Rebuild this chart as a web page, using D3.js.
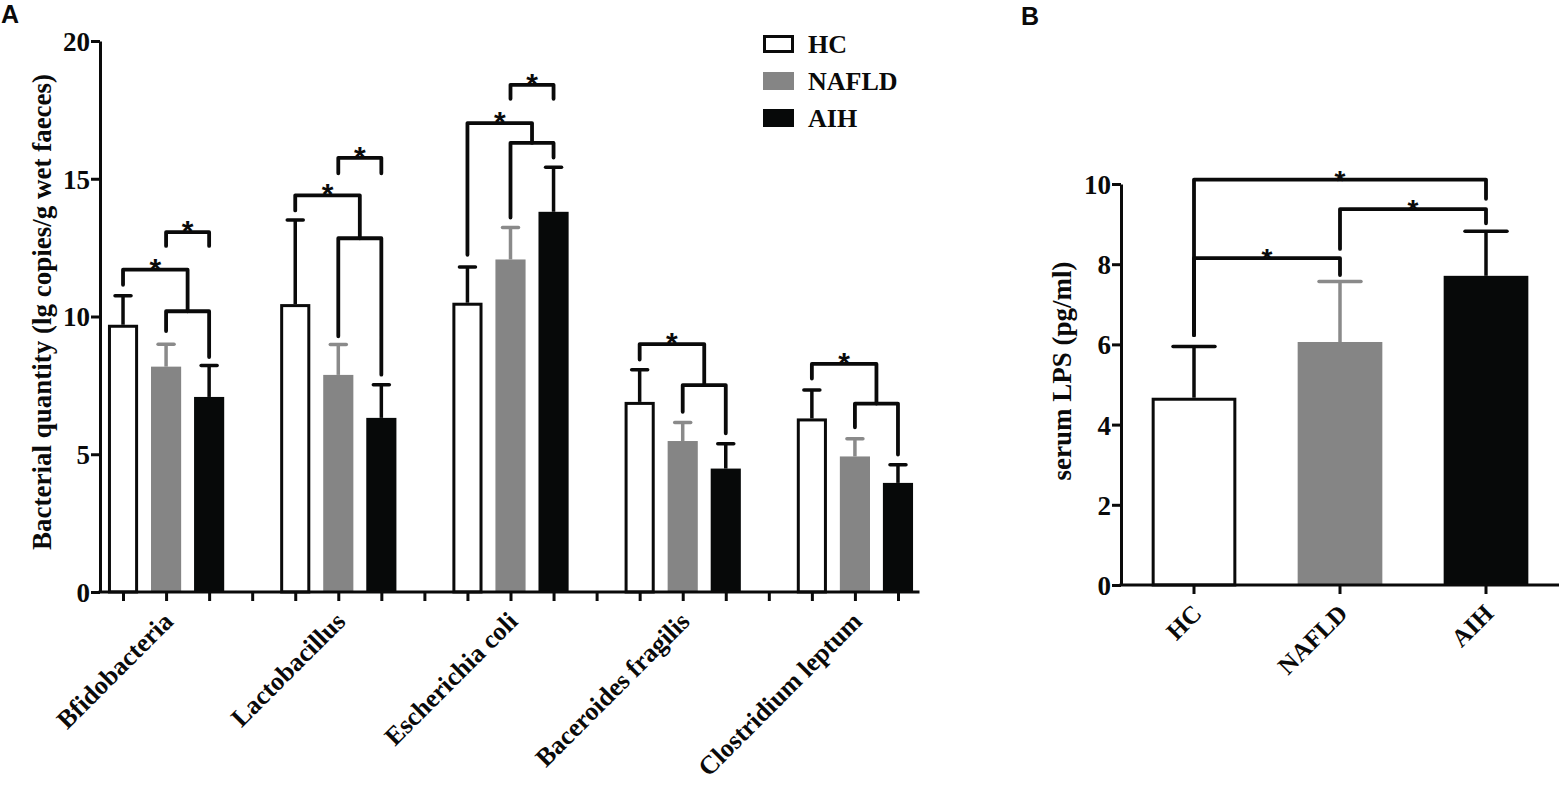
<!DOCTYPE html>
<html>
<head>
<meta charset="utf-8">
<script src="https://cdn.jsdelivr.net/npm/d3@7"></script>
<style>
  body { margin: 0; background: #fff; }
</style>
</head>
<body>
<svg id="fig" width="1562" height="788"></svg>
<script>
//Panel A data: bacterial quantity per group (mean and SD)
var categories = ["Bfidobacteria", "Lactobacillus", "Escherichia coli", "Baceroides fragilis", "Clostridium leptum"];
var groups = ["HC", "NAFLD", "AIH"];
var hcMean = [9.70, 10.45, 10.50, 6.90, 6.30];
var hcSD = [1.05, 3.05, 1.30, 1.17, 1.03];
var nafldMean = [8.18, 7.88, 12.07, 5.48, 4.92];
var nafldSD = [0.81, 1.10, 1.16, 0.67, 0.64];
var aihMean = [7.08, 6.32, 13.80, 4.48, 3.96];
var aihSD = [1.14, 1.20, 1.62, 0.90, 0.66];
var yTicksA = [0, 5, 10, 15, 20];

//Panel A significance brackets, in y units
//HC -> NAFLD/AIH pair: [HC leg end, top, pair level]
var outerBracket = [[11.15, 11.70, 10.19], [13.85, 14.40, 12.84], [12.24, 17.02, 16.30], [8.44, 9.00, 7.51], [7.75, 8.28, 6.84]];
//NAFLD/AIH joint bracket: [NAFLD leg end, AIH leg end]
var pairBracket = [[9.47, 8.53], [9.28, 7.89], [13.59, 15.77], [6.54, 5.76], [5.98, 4.99]];
//NAFLD vs AIH bracket: [leg end, top] (null = none)
var topBracket = [[12.56, 13.06], [15.20, 15.76], [17.90, 18.41], null, null];

//Panel B data: serum LPS
var lpsMean = [4.67, 6.06, 7.71];
var lpsSD = [1.28, 1.51, 1.11];
var yTicksB = [0, 2, 4, 6, 8, 10];
//Panel B brackets: [from group, to group, left leg end, top, right leg end]
var lpsBracket = [[0, 2, 6.23, 10.11, 9.63], [1, 2, 8.38, 9.375, 9.02], [0, 1, 6.23, 8.15, 7.73]];

var fills = ["#ffffff", "#858585", "#070909"];
var errColors = ["#0a0a0a", "#8a8a8a", "#0a0a0a"];
var serif = '"Liberation Serif", "Times New Roman", serif';
var sans = '"Liberation Sans", Arial, sans-serif';

var svg = d3.select('#fig');

//---------------- Panel A ----------------
var nSlots = categories.length * 4 - 1;
var xA = d3.scaleLinear().domain([0, nSlots]).range([101.5, 919.5]);
var yA = d3.scaleLinear().domain([0, 20]).range([592, 41]);
var slotW = xA(1) - xA(0);
var barW = slotW * 0.7;

function slot(ci, si) { return ci * 4 + si + 0.5; }

var means = [hcMean, nafldMean, aihMean];
var sds = [hcSD, nafldSD, aihSD];
var barsA = [];
categories.forEach(function (c, ci) {
  groups.forEach(function (g, si) {
    barsA.push({ ci: ci, si: si, mean: means[si][ci], sd: sds[si][ci] });
  });
});

var gA = svg.append('g');

//error bars first so bars sit on top
gA.selectAll('g.err')
  .data(barsA)
  .enter()
  .append('g')
  .attr('class', 'err')
  .each(function (d) {
    var cx = xA(slot(d.ci, d.si)), g = d3.select(this);
    g.append('line').attr('x1', cx).attr('x2', cx)
      .attr('y1', yA(d.mean)).attr('y2', yA(d.mean + d.sd))
      .attr('stroke', errColors[d.si]).attr('stroke-width', 3.5);
    g.append('line').attr('x1', cx - 8).attr('x2', cx + 8)
      .attr('y1', yA(d.mean + d.sd)).attr('y2', yA(d.mean + d.sd))
      .attr('stroke', errColors[d.si]).attr('stroke-width', 3.5).attr('stroke-linecap', 'round');
  });

gA.selectAll('rect.bar')
  .data(barsA)
  .enter()
  .append('rect')
  .attr('class', 'bar')
  .attr('x', function (d) { return xA(slot(d.ci, d.si)) - barW / 2 + (d.si === 0 ? 1.5 : 0); })
  .attr('width', function (d) { return d.si === 0 ? barW - 3 : barW; })
  .attr('y', function (d) { return yA(d.mean) + (d.si === 0 ? 1.5 : 0); })
  .attr('height', function (d) { return yA(0) - yA(d.mean) - (d.si === 0 ? 1.5 : 0); })
  .attr('fill', function (d) { return fills[d.si]; })
  .attr('stroke', function (d) { return d.si === 0 ? '#0a0a0a' : 'none'; })
  .attr('stroke-width', 3);

//brackets
var brA = gA.append('g')
  .attr('fill', 'none').attr('stroke', '#0a0a0a').attr('stroke-width', 3.8)
  .attr('stroke-linejoin', 'round').attr('stroke-linecap', 'round');

categories.forEach(function (c, ci) {
  var hx = xA(slot(ci, 0)), nx = xA(slot(ci, 1)), ax = xA(slot(ci, 2)), mid = (nx + ax) / 2;
  var o = outerBracket[ci], p = pairBracket[ci], t = topBracket[ci];
  brA.append('path').attr('d', 'M' + hx + ',' + yA(o[0]) + 'V' + yA(o[1]) + 'H' + mid + 'V' + yA(o[2]));
  brA.append('path').attr('d', 'M' + nx + ',' + yA(p[0]) + 'V' + yA(o[2]) + 'H' + ax + 'V' + yA(p[1]));
  gA.append('text').attr('class', 'star').attr('x', (hx + mid) / 2).attr('y', yA(o[1]) + 9)
    .attr('text-anchor', 'middle').style('font-size', '30px').text('*');
  if (t) {
    brA.append('path').attr('d', 'M' + nx + ',' + yA(t[0]) + 'V' + yA(t[1]) + 'H' + ax + 'V' + yA(t[0]));
    gA.append('text').attr('class', 'star').attr('x', mid).attr('y', yA(t[1]) + 9)
      .attr('text-anchor', 'middle').style('font-size', '30px').text('*');
  }
});

//axes
var yAxisA = gA.append('g')
  .attr('transform', 'translate(100,0)')
  .call(d3.axisLeft(yA).tickValues(yTicksA).tickSize(9).tickSizeOuter(0).tickPadding(1));

var xAxisA = gA.append('g')
  .attr('transform', 'translate(0,' + yA(0) + ')')
  .call(d3.axisBottom(xA)
    .tickValues(d3.range(nSlots).map(function (i) { return i + 0.5; }))
    .tickSize(9).tickSizeOuter(0)
    .tickFormat(function (d) {
      var i = d - 0.5;
      return i % 4 === 1 ? categories[(i - 1) / 4] : '';
    }));

xAxisA.select('.domain').attr('d', 'M98.5,0H' + xA(nSlots));
xAxisA.selectAll('text')
  .attr('y', null).attr('dy', null)
  .attr('text-anchor', 'end')
  .attr('transform', 'translate(8,31) rotate(-45)')
  .style('font-size', '26px');

[yAxisA, xAxisA].forEach(function (ax) {
  ax.select('.domain').attr('stroke', '#0a0a0a').attr('stroke-width', 3);
  ax.selectAll('.tick line').attr('stroke', '#0a0a0a').attr('stroke-width', 3);
});
yAxisA.selectAll('text').style('font-size', '27px').attr('dy', '0.35em');

gA.append('text')
  .attr('transform', 'translate(51,312) rotate(-90)')
  .attr('text-anchor', 'middle')
  .style('font-size', '27px')
  .text('Bacterial quantity (lg copies/g wet faeces)');

//legend
var legend = gA.selectAll('g.legend')
  .data(groups)
  .enter()
  .append('g')
  .attr('class', 'legend')
  .attr('transform', function (d, i) { return 'translate(763,' + (35 + i * 37) + ')'; });

legend.append('rect')
  .attr('x', function (d, i) { return i === 0 ? 1.5 : 0; })
  .attr('y', function (d, i) { return i === 0 ? 1.5 : 0; })
  .attr('width', function (d, i) { return i === 0 ? 28 : 31; })
  .attr('height', function (d, i) { return i === 0 ? 15 : 18; })
  .attr('fill', function (d, i) { return fills[i]; })
  .attr('stroke', function (d, i) { return i === 0 ? '#0a0a0a' : 'none'; })
  .attr('stroke-width', 3);

legend.append('text')
  .attr('x', 45).attr('y', 18)
  .style('font-size', '26px')
  .text(function (d) { return d; });

svg.append('text').attr('class', 'panel').attr('x', 1).attr('y', 23)
  .style('font-size', '25px').text('A');

//---------------- Panel B ----------------
var xB = d3.scaleBand().domain(groups).range([1121, 1559]).paddingInner(0.42).paddingOuter(0.21);
var yB = d3.scaleLinear().domain([0, 10]).range([585, 184]);
var gB = svg.append('g');

var barsB = groups.map(function (g, i) { return { g: g, i: i, mean: lpsMean[i], sd: lpsSD[i] }; });

gB.selectAll('g.err')
  .data(barsB)
  .enter()
  .append('g')
  .attr('class', 'err')
  .each(function (d) {
    var cx = xB(d.g) + xB.bandwidth() / 2, g = d3.select(this);
    g.append('line').attr('x1', cx).attr('x2', cx)
      .attr('y1', yB(d.mean)).attr('y2', yB(d.mean + d.sd))
      .attr('stroke', errColors[d.i]).attr('stroke-width', 3.5);
    g.append('line').attr('x1', cx - 21).attr('x2', cx + 21)
      .attr('y1', yB(d.mean + d.sd)).attr('y2', yB(d.mean + d.sd))
      .attr('stroke', errColors[d.i]).attr('stroke-width', 3.5).attr('stroke-linecap', 'round');
  });

gB.selectAll('rect.bar')
  .data(barsB)
  .enter()
  .append('rect')
  .attr('class', 'bar')
  .attr('x', function (d) { return xB(d.g) + (d.i === 0 ? 1.5 : 0); })
  .attr('width', function (d) { return xB.bandwidth() - (d.i === 0 ? 3 : 0); })
  .attr('y', function (d) { return yB(d.mean) + (d.i === 0 ? 1.5 : 0); })
  .attr('height', function (d) { return yB(0) - yB(d.mean) - (d.i === 0 ? 1.5 : 0); })
  .attr('fill', function (d) { return fills[d.i]; })
  .attr('stroke', function (d) { return d.i === 0 ? '#0a0a0a' : 'none'; })
  .attr('stroke-width', 3);

var brB = gB.append('g')
  .attr('fill', 'none').attr('stroke', '#0a0a0a').attr('stroke-width', 3.8)
  .attr('stroke-linejoin', 'round').attr('stroke-linecap', 'round');

lpsBracket.forEach(function (b) {
  var x1 = xB(groups[b[0]]) + xB.bandwidth() / 2, x2 = xB(groups[b[1]]) + xB.bandwidth() / 2;
  brB.append('path').attr('d', 'M' + x1 + ',' + yB(b[2]) + 'V' + yB(b[3]) + 'H' + x2 + 'V' + yB(b[4]));
  gB.append('text').attr('class', 'star').attr('x', (x1 + x2) / 2).attr('y', yB(b[3]) + 10)
    .attr('text-anchor', 'middle').style('font-size', '28px').text('*');
});

var yAxisB = gB.append('g')
  .attr('transform', 'translate(1121,0)')
  .call(d3.axisLeft(yB).tickValues(yTicksB).tickSize(9).tickSizeOuter(0).tickPadding(1));

var xAxisB = gB.append('g')
  .attr('transform', 'translate(0,' + yB(0) + ')')
  .call(d3.axisBottom(xB).tickSize(9).tickSizeOuter(0));

xAxisB.select('.domain').attr('d', 'M1119.5,0H1559');
xAxisB.selectAll('text')
  .attr('y', null).attr('dy', null)
  .attr('text-anchor', 'end')
  .attr('transform', 'translate(9,30) rotate(-45)')
  .style('font-size', '25px');

[yAxisB, xAxisB].forEach(function (ax) {
  ax.select('.domain').attr('stroke', '#0a0a0a').attr('stroke-width', 3);
  ax.selectAll('.tick line').attr('stroke', '#0a0a0a').attr('stroke-width', 3);
});
yAxisB.selectAll('text').style('font-size', '27px').attr('dy', '0.35em');

gB.append('text')
  .attr('transform', 'translate(1071,371) rotate(-90)')
  .attr('text-anchor', 'middle')
  .style('font-size', '27px')
  .text('serum LPS (pg/ml)');

svg.append('text').attr('class', 'panel').attr('x', 1021).attr('y', 25)
  .style('font-size', '25px').text('B');

//fonts: serif bold everywhere, sans for stars and panel letters
svg.selectAll('text')
  .style('font-family', serif)
  .style('font-weight', 'bold')
  .style('fill', '#0a0a0a');
svg.selectAll('text.star').style('font-family', sans);
svg.selectAll('text.panel').style('font-family', sans);
</script>
</body>
</html>
